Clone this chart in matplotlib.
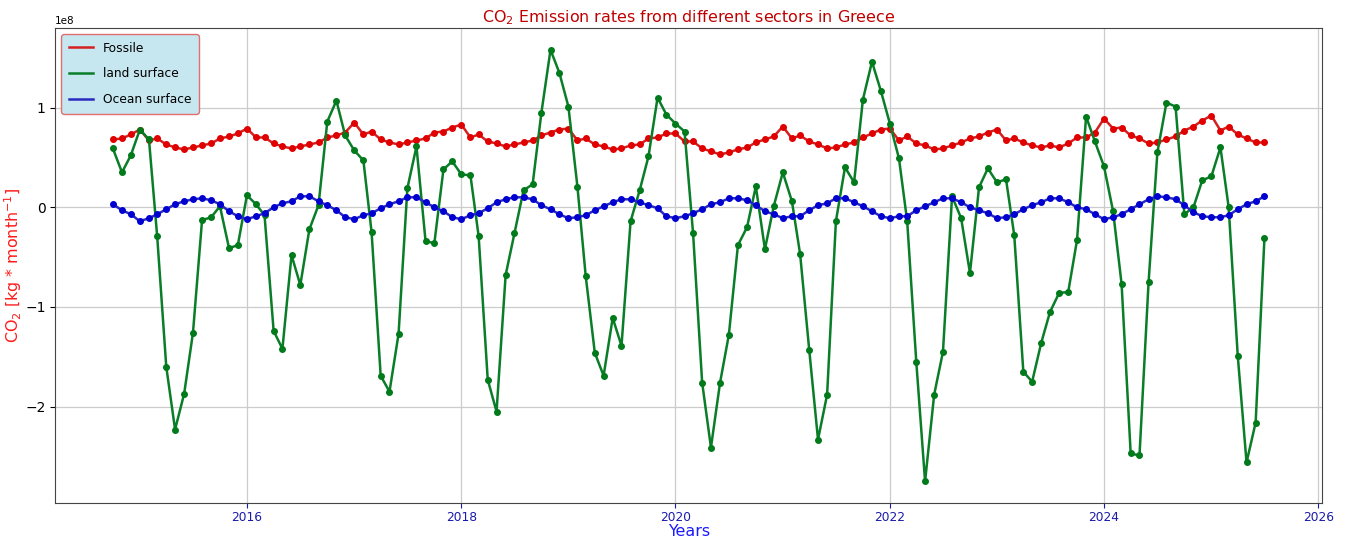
import matplotlib
matplotlib.use("Agg")
import matplotlib.pyplot as plt
import numpy as np
import pandas as pd
from matplotlib.lines import Line2D

# Monthly CO2 fluxes for Greece, in units of 1e8 kg/month
months = pd.date_range("2014-10-01", "2025-07-01", freq="MS")

fossile = [
    0.68, 0.69, 0.73, 0.78, 0.67, 0.69, 0.63, 0.60, 0.58, 0.60, 0.62, 0.64, 0.69, 0.71, 0.74,
    0.79, 0.70, 0.70, 0.64, 0.61, 0.59, 0.61, 0.63, 0.65, 0.70, 0.72, 0.75, 0.85, 0.73, 0.76,
    0.68, 0.65, 0.63, 0.65, 0.67, 0.69, 0.75, 0.76, 0.80, 0.83, 0.70, 0.73, 0.66, 0.64,
    0.61, 0.63, 0.65, 0.67, 0.72, 0.75, 0.78, 0.79, 0.67, 0.69, 0.63, 0.61, 0.58, 0.59,
    0.62, 0.63, 0.69, 0.70, 0.74, 0.74, 0.66, 0.66, 0.59, 0.56, 0.53, 0.55, 0.58, 0.60,
    0.65, 0.68, 0.71, 0.81, 0.69, 0.72, 0.66, 0.63, 0.59, 0.60, 0.63, 0.65, 0.70, 0.74,
    0.78, 0.79, 0.67, 0.71, 0.64, 0.62, 0.58, 0.59, 0.62, 0.65, 0.69, 0.71, 0.75, 0.78,
    0.67, 0.69, 0.65, 0.62, 0.60, 0.62, 0.60, 0.64, 0.70, 0.70, 0.75, 0.89, 0.79, 0.80,
    0.72, 0.69, 0.64, 0.65, 0.68, 0.71, 0.77, 0.81, 0.87, 0.92, 0.77, 0.81, 0.73, 0.69,
    0.65, 0.65,
]

land = [
    0.59, 0.35, 0.52, 0.78, 0.68, -0.29, -1.60, -2.23, -1.87, -1.26, -0.13, -0.10, 0.01,
    -0.41, -0.38, 0.12, 0.03, -0.08, -1.24, -1.42, -0.48, -0.78, -0.22, 0.02, 0.86, 1.07,
    0.72, 0.57, 0.47, -0.25, -1.69, -1.85, -1.27, 0.19, 0.61, -0.34, -0.36, 0.38, 0.46,
    0.33, 0.32, -0.29, -1.73, -2.05, -0.68, -0.26, 0.17, 0.23, 0.95, 1.58, 1.35, 1.01,
    0.20, -0.69, -1.46, -1.69, -1.11, -1.39, -0.14, 0.17, 0.51, 1.10, 0.93, 0.84, 0.76,
    -0.26, -1.76, -2.41, -1.76, -1.28, -0.38, -0.20, 0.21, -0.42, 0.01, 0.35, 0.06, -0.47,
    -1.43, -2.33, -1.88, -0.14, 0.40, 0.25, 1.08, 1.46, 1.17, 0.84, 0.49, -0.14, -1.55,
    -2.75, -1.88, -1.45, 0.11, -0.11, -0.66, 0.20, 0.39, 0.25, 0.28, -0.28, -1.65, -1.75,
    -1.36, -1.05, -0.86, -0.85, -0.33, 0.91, 0.66, 0.41, -0.04, -0.77, -2.47, -2.49, -0.75,
    0.55, 1.05, 1.01, -0.07, 0.00, 0.27, 0.31, 0.60, 0.00, -1.49, -2.56, -2.16, -0.31,
]

ocean = [
    0.03, -0.03, -0.07, -0.14, -0.11, -0.07, -0.02, 0.03, 0.06, 0.08, 0.09, 0.07, 0.03,
    -0.04, -0.09, -0.12, -0.09, -0.06, 0.00, 0.04, 0.06, 0.11, 0.11, 0.06, 0.02, -0.03,
    -0.10, -0.12, -0.08, -0.06, -0.01, 0.03, 0.06, 0.10, 0.10, 0.05, 0.00, -0.04, -0.10,
    -0.12, -0.08, -0.06, -0.01, 0.05, 0.08, 0.10, 0.10, 0.08, 0.02, -0.02, -0.07, -0.11,
    -0.10, -0.08, -0.03, 0.01, 0.05, 0.08, 0.08, 0.05, 0.02, -0.01, -0.09, -0.11, -0.09,
    -0.06, -0.02, 0.03, 0.05, 0.09, 0.09, 0.07, 0.02, -0.04, -0.07, -0.11, -0.09, -0.09,
    -0.03, 0.02, 0.04, 0.09, 0.09, 0.05, 0.01, -0.04, -0.09, -0.11, -0.09, -0.09, -0.03,
    0.01, 0.05, 0.09, 0.09, 0.05, 0.00, -0.03, -0.06, -0.11, -0.10, -0.07, -0.02, 0.02,
    0.05, 0.09, 0.09, 0.05, 0.00, -0.02, -0.07, -0.12, -0.10, -0.07, -0.02, 0.03, 0.08,
    0.11, 0.10, 0.08, 0.02, -0.05, -0.09, -0.10, -0.10, -0.08, -0.02, 0.03, 0.06, 0.11,
]

scale = 1e8
series = [
    ("Fossile", fossile, "#e00000", "#d42020"),
    ("land surface", land, "#007a1a", "#0a7d28"),
    ("Ocean surface", ocean, "#0000d0", "#2a2ac0"),
]

fig = plt.figure(figsize=(13.49, 5.42), dpi=100)
ax = fig.add_axes([0.041, 0.072, 0.939, 0.876])

handles = []
for label, vals, mcolor, lcolor in series:
    y = np.array(vals) * scale
    ax.plot(months, y, color=lcolor, linewidth=1.8, marker="o", markersize=4,
            markerfacecolor=mcolor, markeredgecolor=mcolor, zorder=3)
    handles.append(Line2D([0], [0], color=lcolor, linewidth=1.8, label=label))

ax.grid(True, color="#cccccc", linewidth=0.9)
ax.set_axisbelow(True)

ax.set_title("CO$_2$ Emission rates from different sectors in Greece",
             color="#c00000", fontsize=11.4, pad=4)
ax.set_xlabel("Years", color="#1a1aff", fontsize=11.4, labelpad=0)
ax.set_ylabel("CO$_2$ [kg * month$^{-1}$]", color="#ff1a1a", fontsize=11.4, labelpad=1)

ax.tick_params(axis="x", colors="#1a1aaa", labelsize=8.8, pad=2.5)
ax.tick_params(axis="y", labelsize=10)
ax.yaxis.get_offset_text().set_fontsize(7.5)
for sp in ax.spines.values():
    sp.set_color("#444444")

leg = ax.legend(handles=handles, loc="upper left", fontsize=8.8,
                facecolor="#c6e6f0", edgecolor="#e07070", framealpha=1.0,
                handlelength=2.0, labelspacing=1.05, borderpad=0.6)

fig.savefig("out.png", dpi=100)
